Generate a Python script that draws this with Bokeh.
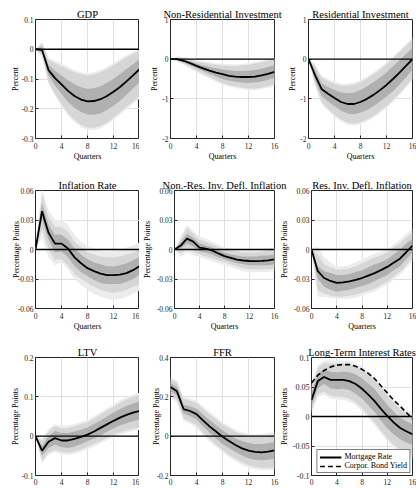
from bokeh.plotting import figure
from bokeh.layouts import row, column
from bokeh.models import (FixedTicker, CustomJSTickFormatter, Span, Legend,
                          LegendItem, Range1d)
from bokeh.embed import file_html
from bokeh.resources import INLINE

quarters = list(range(17))
x_ticks = [0, 4, 8, 12, 16]

# ---------------- GDP ----------------
gdp_med = [0, -0.002, -0.070, -0.097, -0.118, -0.140, -0.157, -0.169, -0.175, -0.174, -0.168, -0.157, -0.143, -0.127, -0.108, -0.088, -0.067]
gdp_in_lo = [0, -0.010, -0.088, -0.122, -0.150, -0.177, -0.197, -0.211, -0.219, -0.220, -0.215, -0.204, -0.190, -0.173, -0.153, -0.132, -0.111]
gdp_in_hi = [0, 0.008, -0.052, -0.072, -0.088, -0.104, -0.118, -0.128, -0.133, -0.131, -0.124, -0.113, -0.099, -0.083, -0.066, -0.050, -0.033]
gdp_mid_lo = [0, -0.020, -0.110, -0.150, -0.185, -0.215, -0.238, -0.254, -0.263, -0.264, -0.258, -0.246, -0.230, -0.212, -0.193, -0.176, -0.158]
gdp_mid_hi = [0, 0.020, -0.035, -0.046, -0.056, -0.067, -0.077, -0.084, -0.087, -0.084, -0.077, -0.066, -0.053, -0.040, -0.027, -0.015, -0.004]
gdp_out_lo = [0, -0.025, -0.116, -0.157, -0.193, -0.223, -0.246, -0.262, -0.271, -0.272, -0.266, -0.254, -0.238, -0.220, -0.201, -0.184, -0.166]
gdp_out_hi = [0, 0.025, -0.029, -0.039, -0.049, -0.060, -0.070, -0.077, -0.080, -0.077, -0.070, -0.059, -0.046, -0.033, -0.020, -0.008, 0.003]
gdp_yticks = [-0.3, -0.2, -0.1, 0, 0.1]

# ---------------- Non-Residential Investment ----------------
nri_med = [0, 0.00, -0.04, -0.10, -0.17, -0.23, -0.29, -0.34, -0.38, -0.42, -0.44, -0.45, -0.45, -0.44, -0.41, -0.37, -0.32]
nri_in_hi = [0, 0.02, 0.00, -0.05, -0.11, -0.16, -0.20, -0.23, -0.26, -0.28, -0.30, -0.30, -0.29, -0.27, -0.24, -0.20, -0.15]
nri_in_lo = [0, -0.02, -0.08, -0.15, -0.23, -0.30, -0.37, -0.44, -0.50, -0.54, -0.57, -0.59, -0.60, -0.59, -0.56, -0.52, -0.47]
nri_mid_hi = [0, 0.04, 0.03, -0.01, -0.06, -0.09, -0.12, -0.14, -0.16, -0.17, -0.17, -0.16, -0.14, -0.11, -0.08, -0.04, 0.00]
nri_mid_lo = [0, -0.04, -0.11, -0.20, -0.29, -0.37, -0.45, -0.53, -0.60, -0.65, -0.69, -0.72, -0.74, -0.74, -0.72, -0.68, -0.64]
nri_out_hi = [0, 0.06, 0.06, 0.02, -0.02, -0.05, -0.08, -0.10, -0.12, -0.13, -0.13, -0.12, -0.10, -0.07, -0.04, 0.00, 0.04]
nri_out_lo = [0, -0.06, -0.14, -0.24, -0.33, -0.41, -0.49, -0.57, -0.64, -0.69, -0.73, -0.76, -0.78, -0.78, -0.76, -0.72, -0.68]
inv_yticks = [-2, -1, 0, 1]

# ---------------- Residential Investment ----------------
ri_med = [0, -0.40, -0.75, -0.87, -0.98, -1.08, -1.13, -1.13, -1.08, -1.00, -0.90, -0.78, -0.65, -0.50, -0.34, -0.17, 0.00]
ri_in_hi = [0, -0.28, -0.60, -0.70, -0.78, -0.84, -0.86, -0.84, -0.78, -0.69, -0.58, -0.46, -0.33, -0.18, -0.03, 0.13, 0.28]
ri_in_lo = [0, -0.52, -0.92, -1.06, -1.19, -1.30, -1.37, -1.39, -1.35, -1.28, -1.19, -1.07, -0.94, -0.80, -0.64, -0.46, -0.26]
ri_mid_hi = [0, -0.18, -0.46, -0.55, -0.62, -0.67, -0.67, -0.64, -0.58, -0.49, -0.38, -0.26, -0.13, 0.02, 0.18, 0.34, 0.50]
ri_mid_lo = [0, -0.62, -1.08, -1.25, -1.40, -1.52, -1.60, -1.62, -1.59, -1.52, -1.43, -1.31, -1.18, -1.03, -0.86, -0.68, -0.48]
ri_out_hi = [0, -0.13, -0.41, -0.50, -0.57, -0.62, -0.62, -0.59, -0.53, -0.44, -0.33, -0.21, -0.08, 0.07, 0.23, 0.39, 0.55]
ri_out_lo = [0, -0.67, -1.13, -1.30, -1.45, -1.57, -1.65, -1.67, -1.64, -1.57, -1.48, -1.36, -1.23, -1.08, -0.91, -0.73, -0.53]

# ---------------- Inflation Rate ----------------
inf_med = [0, 0.039, 0.017, 0.006, 0.006, 0.001, -0.008, -0.014, -0.019, -0.022, -0.0245, -0.026, -0.026, -0.0255, -0.024, -0.021, -0.017]
inf_in_hi = [0, 0.047, 0.025, 0.015, 0.015, 0.010, 0.001, -0.005, -0.010, -0.013, -0.015, -0.017, -0.017, -0.016, -0.014, -0.011, -0.008]
inf_in_lo = [0, 0.030, 0.010, -0.003, -0.002, -0.008, -0.017, -0.023, -0.027, -0.031, -0.034, -0.035, -0.035, -0.035, -0.033, -0.030, -0.026]
inf_mid_hi = [0, 0.056, 0.033, 0.023, 0.023, 0.018, 0.008, 0.002, -0.003, -0.005, -0.007, -0.008, -0.008, -0.007, -0.005, -0.003, 0.000]
inf_mid_lo = [0, 0.020, 0.000, -0.011, -0.010, -0.016, -0.025, -0.030, -0.034, -0.038, -0.041, -0.043, -0.044, -0.043, -0.041, -0.038, -0.035]
inf_out_hi = [0, 0.062, 0.040, 0.030, 0.030, 0.025, 0.015, 0.008, 0.003, 0.001, -0.001, -0.002, -0.002, -0.001, 0.002, 0.004, 0.007]
inf_out_lo = [0, 0.012, -0.008, -0.016, -0.013, -0.020, -0.030, -0.036, -0.041, -0.045, -0.048, -0.050, -0.051, -0.050, -0.048, -0.045, -0.042]
defl_yticks = [-0.06, -0.03, 0, 0.03, 0.06]

# ---------------- Non-Res. Inv. Defl. Inflation ----------------
nrd_med = [0, 0.004, 0.011, 0.008, 0.002, 0.001, -0.001, -0.004, -0.0067, -0.0085, -0.0103, -0.0112, -0.0117, -0.0118, -0.0115, -0.011, -0.010]
nrd_in_hi = [0, 0.007, 0.016, 0.012, 0.006, 0.004, 0.002, -0.001, -0.003, -0.005, -0.006, -0.007, -0.007, -0.007, -0.006, -0.006, -0.005]
nrd_in_lo = [0, 0.001, 0.006, 0.003, -0.002, -0.003, -0.005, -0.008, -0.010, -0.012, -0.014, -0.015, -0.016, -0.016, -0.016, -0.016, -0.015]
nrd_mid_hi = [0, 0.010, 0.022, 0.016, 0.010, 0.008, 0.005, 0.002, 0.000, -0.001, -0.002, -0.003, -0.003, -0.003, -0.002, -0.001, 0.000]
nrd_mid_lo = [0, -0.004, 0.001, -0.002, -0.005, -0.007, -0.009, -0.011, -0.013, -0.015, -0.017, -0.019, -0.020, -0.020, -0.020, -0.020, -0.019]
nrd_out_hi = [0, 0.014, 0.025, 0.019, 0.013, 0.011, 0.008, 0.005, 0.002, 0.001, 0.000, 0.000, 0.000, 0.000, 0.001, 0.001, 0.002]
nrd_out_lo = [0, -0.008, -0.003, -0.006, -0.008, -0.010, -0.012, -0.014, -0.016, -0.018, -0.020, -0.022, -0.023, -0.023, -0.023, -0.023, -0.022]

# ---------------- Res. Inv. Defl. Inflation ----------------
rd_med = [0, -0.022, -0.029, -0.032, -0.034, -0.0335, -0.0325, -0.031, -0.029, -0.0265, -0.024, -0.021, -0.0177, -0.0135, -0.0093, -0.0028, 0.004]
rd_in_hi = [0, -0.017, -0.022, -0.024, -0.026, -0.026, -0.025, -0.023, -0.021, -0.018, -0.015, -0.013, -0.010, -0.005, 0.000, 0.006, 0.011]
rd_in_lo = [0, -0.030, -0.038, -0.041, -0.043, -0.042, -0.041, -0.039, -0.037, -0.035, -0.032, -0.029, -0.026, -0.021, -0.017, -0.010, -0.003]
rd_mid_hi = [0, -0.005, -0.015, -0.018, -0.020, -0.020, -0.019, -0.017, -0.014, -0.011, -0.008, -0.006, -0.003, 0.002, 0.006, 0.012, 0.017]
rd_mid_lo = [0, -0.042, -0.045, -0.047, -0.048, -0.048, -0.047, -0.046, -0.044, -0.042, -0.040, -0.036, -0.033, -0.028, -0.023, -0.016, -0.009]
rd_out_hi = [0, 0.003, -0.008, -0.013, -0.017, -0.017, -0.016, -0.013, -0.010, -0.007, -0.004, -0.002, 0.000, 0.005, 0.010, 0.016, 0.021]
rd_out_lo = [0, -0.048, -0.048, -0.049, -0.050, -0.050, -0.050, -0.049, -0.047, -0.045, -0.043, -0.039, -0.036, -0.031, -0.026, -0.019, -0.012]

# ---------------- LTV ----------------
ltv_med = [0, -0.037, -0.014, -0.005, -0.011, -0.011, -0.007, -0.002, 0.004, 0.012, 0.021, 0.030, 0.039, 0.047, 0.054, 0.060, 0.064]
ltv_in_hi = [0, -0.025, 0.000, 0.013, 0.008, 0.008, 0.012, 0.017, 0.022, 0.031, 0.040, 0.050, 0.060, 0.069, 0.077, 0.083, 0.088]
ltv_in_lo = [0, -0.050, -0.030, -0.022, -0.028, -0.030, -0.026, -0.020, -0.013, -0.006, 0.002, 0.011, 0.020, 0.027, 0.033, 0.038, 0.042]
ltv_mid_hi = [0, -0.012, 0.012, 0.025, 0.020, 0.021, 0.025, 0.030, 0.035, 0.045, 0.055, 0.065, 0.075, 0.085, 0.093, 0.100, 0.105]
ltv_mid_lo = [0, -0.063, -0.042, -0.035, -0.040, -0.042, -0.039, -0.034, -0.027, -0.020, -0.012, -0.004, 0.003, 0.010, 0.015, 0.019, 0.022]
ltv_out_hi = [0, -0.006, 0.018, 0.031, 0.026, 0.027, 0.031, 0.036, 0.041, 0.051, 0.061, 0.071, 0.081, 0.091, 0.099, 0.106, 0.111]
ltv_out_lo = [0, -0.069, -0.048, -0.041, -0.046, -0.048, -0.045, -0.040, -0.033, -0.026, -0.018, -0.010, -0.003, 0.004, 0.009, 0.013, 0.016]
ltv_yticks = [-0.1, 0, 0.1, 0.2]

# ---------------- FFR ----------------
ffr_med = [0.250, 0.228, 0.138, 0.128, 0.112, 0.080, 0.050, 0.024, -0.003, -0.025, -0.045, -0.062, -0.074, -0.080, -0.082, -0.079, -0.072]
ffr_in_hi = [0.270, 0.250, 0.160, 0.152, 0.140, 0.110, 0.082, 0.056, 0.030, 0.008, -0.012, -0.025, -0.035, -0.040, -0.040, -0.036, -0.030]
ffr_in_lo = [0.230, 0.205, 0.115, 0.102, 0.085, 0.050, 0.018, -0.010, -0.040, -0.060, -0.080, -0.098, -0.112, -0.120, -0.122, -0.120, -0.115]
ffr_mid_hi = [0.290, 0.272, 0.190, 0.180, 0.170, 0.140, 0.112, 0.087, 0.060, 0.040, 0.022, 0.008, 0.000, -0.004, -0.002, 0.004, 0.010]
ffr_mid_lo = [0.210, 0.182, 0.090, 0.075, 0.055, 0.018, -0.015, -0.043, -0.070, -0.094, -0.115, -0.133, -0.148, -0.156, -0.160, -0.160, -0.160]
ffr_out_hi = [0.302, 0.284, 0.202, 0.192, 0.182, 0.152, 0.124, 0.099, 0.072, 0.052, 0.034, 0.020, 0.012, 0.008, 0.010, 0.016, 0.022]
ffr_out_lo = [0.198, 0.170, 0.078, 0.063, 0.043, 0.006, -0.027, -0.055, -0.082, -0.106, -0.127, -0.145, -0.160, -0.168, -0.172, -0.172, -0.172]
ffr_yticks = [-0.2, 0, 0.2, 0.4]

# ---------------- Long-Term Interest Rates ----------------
mort_med = [0.028, 0.060, 0.067, 0.062, 0.062, 0.062, 0.060, 0.055, 0.047, 0.037, 0.026, 0.013, 0.001, -0.010, -0.019, -0.025, -0.030]
corp_yield = [0.057, 0.070, 0.078, 0.084, 0.087, 0.088, 0.088, 0.085, 0.080, 0.073, 0.064, 0.052, 0.040, 0.028, 0.018, 0.007, -0.004]
mort_in_hi = [0.040, 0.072, 0.080, 0.076, 0.075, 0.076, 0.075, 0.071, 0.065, 0.056, 0.046, 0.033, 0.020, 0.008, -0.002, -0.008, -0.013]
mort_in_lo = [0.018, 0.048, 0.055, 0.048, 0.046, 0.047, 0.045, 0.039, 0.030, 0.019, 0.007, -0.007, -0.020, -0.030, -0.038, -0.044, -0.048]
mort_mid_hi = [0.050, 0.082, 0.090, 0.090, 0.090, 0.090, 0.089, 0.085, 0.080, 0.071, 0.061, 0.049, 0.036, 0.024, 0.013, 0.006, 0.002]
mort_mid_lo = [0.010, 0.038, 0.042, 0.035, 0.034, 0.033, 0.030, 0.024, 0.014, 0.002, -0.010, -0.024, -0.037, -0.048, -0.056, -0.062, -0.066]
mort_out_hi = [0.055, 0.087, 0.095, 0.095, 0.095, 0.095, 0.094, 0.090, 0.085, 0.076, 0.066, 0.054, 0.041, 0.029, 0.018, 0.011, 0.007]
mort_out_lo = [0.005, 0.033, 0.037, 0.030, 0.029, 0.028, 0.025, 0.019, 0.009, -0.003, -0.015, -0.029, -0.042, -0.053, -0.061, -0.067, -0.071]
lt_yticks = [-0.1, -0.05, 0, 0.05, 0.1]

FONT = "Liberation Serif"
OUTER = "#ececec"
MID = "#d6d6d6"
INNER = "#b0b0b0"
AX = "#262626"

# column geometry: (width, min_border_left, min_border_right, css margin-left)
COLS = [(139, 35, 0, 0), (150, 31, 15, 0), (140, 32, 4, -13)]
# row geometry: (height, min_border_top, min_border_bottom, x tick standoff)
ROWS = [(177, 19, 39, 4), (167, 11, 36, 4), (144, 11, 13, 3)]


def make_panel(title, ylabel, yticks, med, bands, col, rw, ylab_standoff,
               xlabel=True, ytick_size="7.5px"):
    width, bl, br, ml = COLS[col]
    height, bt, bb, xstand = ROWS[rw]
    p = figure(width=width, height=height, output_backend="svg",
               toolbar_location=None, title=title,
               x_range=Range1d(0, 16), y_range=Range1d(yticks[0], yticks[-1]),
               min_border_left=bl, min_border_right=br,
               min_border_top=bt, min_border_bottom=bb,
               margin=(0, 0, 0, ml))
    p.background_fill_color = "white"
    p.border_fill_color = "white"
    p.border_fill_alpha = 0
    p.outline_line_color = AX
    p.outline_line_width = 1
    p.outline_line_alpha = 1

    p.title.text_font = FONT
    p.title.text_font_size = "10.5px"
    p.title.text_font_style = "normal"
    p.title.text_color = "black"
    p.title.align = "center"
    p.title.standoff = 0
    p.title.offset = 0

    p.xaxis.ticker = FixedTicker(ticks=x_ticks)
    p.yaxis.ticker = FixedTicker(ticks=yticks)
    p.yaxis.formatter = CustomJSTickFormatter(code="return String(tick)")
    for ax in (p.xaxis[0], p.yaxis[0]):
        ax.axis_line_color = None
        ax.major_tick_in = 3
        ax.major_tick_out = 0
        ax.major_tick_line_color = AX
        ax.minor_tick_line_color = None
        ax.major_label_text_font = FONT
        ax.major_label_text_color = AX
        ax.axis_label_text_font = FONT
        ax.axis_label_text_font_size = "8px"
        ax.axis_label_text_font_style = "normal"
        ax.axis_label_text_color = "black"
    p.xaxis.major_label_standoff = xstand
    p.xaxis.axis_label_standoff = 0
    p.yaxis.major_label_standoff = 2
    p.yaxis.axis_label_standoff = ylab_standoff
    p.xaxis.major_label_text_font_size = "7.5px"
    p.yaxis.major_label_text_font_size = ytick_size
    p.yaxis.axis_label = ylabel
    if xlabel:
        p.xaxis.axis_label = "Quarters"
    p.xgrid.grid_line_color = "#dfdfdf"
    p.ygrid.grid_line_color = "#dfdfdf"

    colors = [OUTER, MID, INNER]
    for (lo, hi), c in zip(bands, colors):
        p.varea(x=quarters, y1=lo, y2=hi, fill_color=c, fill_alpha=1)
    p.add_layout(Span(location=0, dimension="width", line_color="black",
                      line_width=1.4))
    r = p.line(quarters, med, line_color="black", line_width=1.8)
    return p, r


p1, _ = make_panel("GDP", "Percent", gdp_yticks, gdp_med,
                   [(gdp_out_lo, gdp_out_hi), (gdp_mid_lo, gdp_mid_hi), (gdp_in_lo, gdp_in_hi)],
                   0, 0, -1)
p2, _ = make_panel("Non-Residential Investment", "Percent", inv_yticks, nri_med,
                   [(nri_out_lo, nri_out_hi), (nri_mid_lo, nri_mid_hi), (nri_in_lo, nri_in_hi)],
                   1, 0, 0)
p3, _ = make_panel("Residential Investment", "Percent", inv_yticks, ri_med,
                   [(ri_out_lo, ri_out_hi), (ri_mid_lo, ri_mid_hi), (ri_in_lo, ri_in_hi)],
                   2, 0, 0)
p4, _ = make_panel("Inflation Rate", "Percentage Points", defl_yticks, inf_med,
                   [(inf_out_lo, inf_out_hi), (inf_mid_lo, inf_mid_hi), (inf_in_lo, inf_in_hi)],
                   0, 1, -6)
p5, _ = make_panel("Non.-Res. Inv. Defl. Inflation", "Percentage Points", defl_yticks, nrd_med,
                   [(nrd_out_lo, nrd_out_hi), (nrd_mid_lo, nrd_mid_hi), (nrd_in_lo, nrd_in_hi)],
                   1, 1, 2)
p6, _ = make_panel("Res. Inv. Defl. Inflation", "Percentage Points", defl_yticks, rd_med,
                   [(rd_out_lo, rd_out_hi), (rd_mid_lo, rd_mid_hi), (rd_in_lo, rd_in_hi)],
                   2, 1, 2)
p7, _ = make_panel("LTV", "Percentage Points", ltv_yticks, ltv_med,
                   [(ltv_out_lo, ltv_out_hi), (ltv_mid_lo, ltv_mid_hi), (ltv_in_lo, ltv_in_hi)],
                   0, 2, -1, xlabel=False)
p8, _ = make_panel("FFR", "Percentage Points", ffr_yticks, ffr_med,
                   [(ffr_out_lo, ffr_out_hi), (ffr_mid_lo, ffr_mid_hi), (ffr_in_lo, ffr_in_hi)],
                   1, 2, -7, xlabel=False)
p9, r_mort = make_panel("Long-Term Interest Rates", "Percentage Points", lt_yticks, mort_med,
                        [(mort_out_lo, mort_out_hi), (mort_mid_lo, mort_mid_hi), (mort_in_lo, mort_in_hi)],
                        2, 2, 1, xlabel=False, ytick_size="8px")
r_corp = p9.line(quarters, corp_yield, line_color="black", line_width=1.6, line_dash="5 3")

legend = Legend(items=[LegendItem(label="Mortgage Rate", renderers=[r_mort]),
                       LegendItem(label="Corpor. Bond Yield", renderers=[r_corp])],
                location="bottom_right")
legend.border_line_color = "black"
legend.border_line_width = 1
legend.background_fill_color = "white"
legend.background_fill_alpha = 1
legend.label_text_font = FONT
legend.label_text_font_size = "8px"
legend.label_text_color = "black"
legend.label_standoff = 3
legend.glyph_width = 22
legend.glyph_height = 8
legend.label_height = 8
legend.spacing = 0
legend.padding = 2
legend.margin = 2
p9.add_layout(legend)

layout = column(row(p1, p2, p3, spacing=0), row(p4, p5, p6, spacing=0),
                row(p7, p8, p9, spacing=0), spacing=0)

open("out.html", "w").write(file_html(layout, INLINE))
